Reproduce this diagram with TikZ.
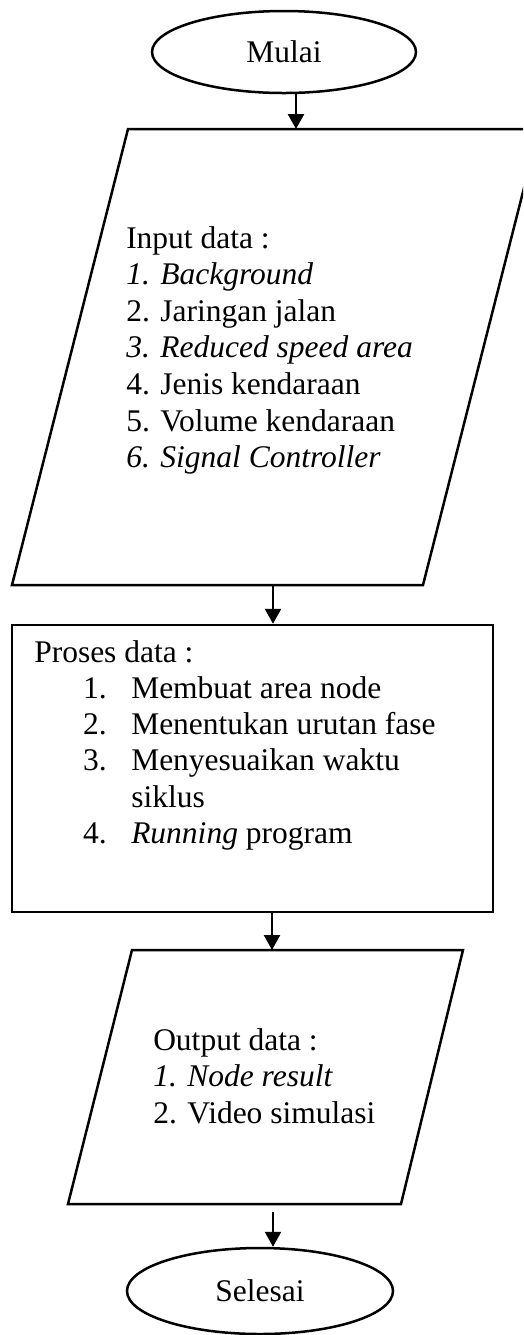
\documentclass[tikz,border=0pt]{standalone}
\usepackage{fontspec}
\setmainfont{Liberation Serif}
\usetikzlibrary{arrows.meta,shapes.geometric}
\begin{document}
\begin{tikzpicture}[x=0.4pt,y=-0.4pt, line width=1pt,
  term/.style={draw, ellipse, inner sep=0pt, font=\fontsize{12.6}{14.7}\selectfont},
  txt/.style={anchor=base west, inner sep=0pt, font=\fontsize{12.6}{14.7}\selectfont},
  arr/.style={-{Triangle[length=6pt,width=6.4pt]}}]
\path[use as bounding box] (0,0) rectangle (523,1335);
\clip (0,0) rectangle (523,1335);

% start
\node[term, minimum width=105.6pt, minimum height=32.8pt] (mulai) at (284,52) {Mulai};

% input parallelogram
\draw (128,129) -- (539,129) -- (423,585) -- (12,585) -- cycle;
\coordinate (inT) at (296,129);
\coordinate (inB) at (273,585);
\node[txt] (i0) at (125,248) {Input data :};
\node[txt] (i1) at (125,284.5) {\itshape 1. Background};
\node[txt] (i2) at (125,321) {2. Jaringan jalan};
\node[txt] (i3) at (125,357.5) {\itshape 3. Reduced speed area};
\node[txt] (i4) at (125,394.5) {4. Jenis kendaraan};
\node[txt] (i5) at (125,431) {5. Volume kendaraan};
\node[txt] (i6) at (125,467.5) {\itshape 6. Signal Controller};

% process box
\node[draw, inner sep=0pt, minimum width=192.4pt, minimum height=114.8pt] (proses) at (252.5,768.5) {};
\node[txt] (p0) at (33,662) {Proses data :};
\node[txt] (n1) at (82,698.3) {1.};
\node[txt] (p1) at (130,698.3) {Membuat area node};
\node[txt] (n2) at (82,734.6) {2.};
\node[txt] (p2) at (130,734.6) {Menentukan urutan fase};
\node[txt] (n3) at (82,770.9) {3.};
\node[txt] (p3) at (130,770.9) {Menyesuaikan waktu};
\node[txt] (p3b) at (130,807.2) {siklus};
\node[txt] (n4) at (82,843.5) {4.};
\node[txt] (p4) at (130,843.5) {\textit{Running} program};

% output parallelogram
\draw (132,950) -- (463,950) -- (401,1204) -- (68,1204) -- cycle;
\coordinate (outT) at (272,950);
\coordinate (outB) at (273,1212);
\node[txt] (o0) at (152,1050) {Output data :};
\node[txt] (o1) at (152,1086.7) {\itshape 1. Node result};
\node[txt] (o2) at (152,1123) {2. Video simulasi};

% end
\node[term, minimum width=106.4pt, minimum height=34.4pt] (selesai) at (260,1291) {Selesai};

% connectors
\draw[arr] (mulai.south -| inT) -- (inT);
\draw[arr] (inB) -- (proses.north -| inB);
\draw[arr] (proses.south -| outT) -- (outT);
\draw[arr] (outB) -- (selesai.north -| outB);
\end{tikzpicture}
\end{document}
